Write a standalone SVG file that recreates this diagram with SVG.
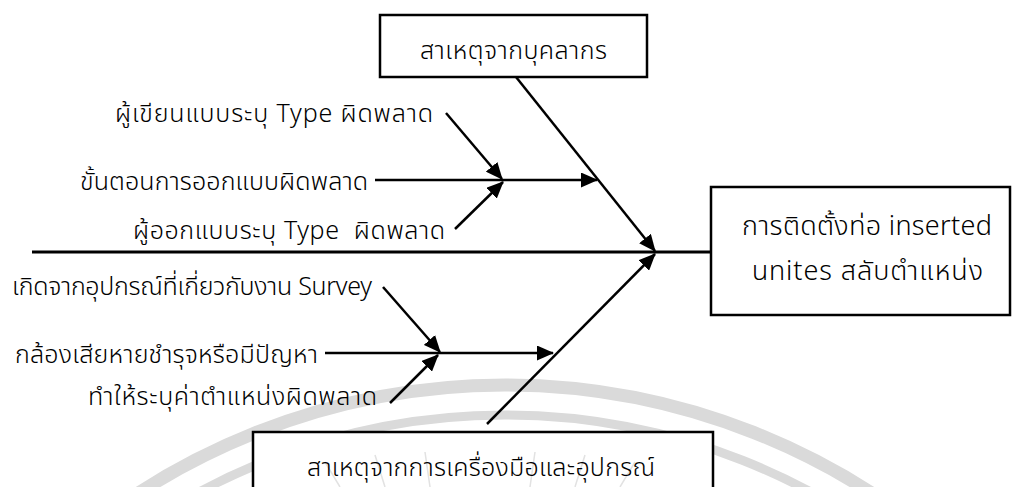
<svg xmlns="http://www.w3.org/2000/svg" width="1013" height="487" viewBox="0 0 1013 487">
  <style>
    .bg { fill: #ffffff; }
    .box { fill: #ffffff; stroke: #000000; stroke-width: 2.5; }
    .lbl { font-family: "Noto Sans Thai", "Noto Sans", "DejaVu Sans", sans-serif; font-size: 25px; font-weight: 300; fill: #000000; }
    .big { font-size: 27px; }
    .edge { stroke: #000000; stroke-width: 2.5; fill: none; }
    .spine { stroke: #000000; stroke-width: 3; fill: none; }
    .ring { fill: none; stroke: #dadada; }
    .ray { stroke: #e2e2e2; stroke-width: 1.5; }
  </style>
  <defs>
    <marker id="arrow" viewBox="0 0 17 15" refX="16" refY="7.5" markerWidth="17" markerHeight="15" markerUnits="userSpaceOnUse" orient="auto">
      <path d="M0,0 L17,7.5 L0,15 Z" fill="#000000"/>
    </marker>
  </defs>

  <rect class="bg" x="0" y="0" width="1013" height="487"/>

  <!-- faint seal printed in the background -->
  <g id="seal">
    <circle class="ring" cx="505" cy="1060" r="675" stroke-width="13"/>
    <circle class="ring" cx="505" cy="1060" r="645" stroke-width="9"/>
  </g>

  <!-- cause branches and main spine -->
  <g id="connectors">
    <line class="spine" x1="32" y1="252" x2="711" y2="252"/>
    <line class="edge" x1="516" y1="77" x2="655" y2="251" marker-end="url(#arrow)"/>
    <line class="edge" x1="487" y1="424" x2="655" y2="254" marker-end="url(#arrow)"/>

    <line class="edge" x1="375" y1="180" x2="597" y2="180" marker-end="url(#arrow)"/>
    <line class="edge" x1="446" y1="113" x2="502" y2="179" marker-end="url(#arrow)"/>
    <line class="edge" x1="455" y1="229" x2="503" y2="182" marker-end="url(#arrow)"/>

    <line class="edge" x1="325" y1="353" x2="553" y2="353" marker-end="url(#arrow)"/>
    <line class="edge" x1="383" y1="287" x2="440" y2="352" marker-end="url(#arrow)"/>
    <line class="edge" x1="390" y1="403" x2="438" y2="355" marker-end="url(#arrow)"/>
  </g>

  <g id="cause-people">
    <rect class="box" x="380" y="15" width="267" height="62"/>
    <text class="lbl" x="420" y="59" textLength="187">สาเหตุจากบุคลากร</text>
  </g>

  <g id="cause-tools">
    <rect class="box" x="253" y="432" width="460" height="70"/>
    <!-- seal rays showing through the box -->
    <line class="ray" x1="340" y1="487" x2="325" y2="462"/>
    <line class="ray" x1="385" y1="487" x2="375" y2="455"/>
    <line class="ray" x1="430" y1="487" x2="425" y2="452"/>
    <line class="ray" x1="530" y1="487" x2="535" y2="452"/>
    <line class="ray" x1="575" y1="487" x2="585" y2="455"/>
    <line class="ray" x1="620" y1="487" x2="635" y2="462"/>
    <text class="lbl" x="307" y="476" textLength="348">สาเหตุจากการเครื่องมือและอุปกรณ์</text>
  </g>

  <g id="effect">
    <rect class="box" x="711" y="187" width="299" height="128"/>
    <text class="lbl big" x="742" y="235" textLength="250">การติดตั้งท่อ inserted</text>
    <text class="lbl big" x="752" y="280" textLength="231">unites สลับตำแหน่ง</text>
  </g>

  <g id="sub-writer-type">
    <text class="lbl" x="115" y="122" textLength="318">ผู้เขียนแบบระบุ Type ผิดพลาด</text>
  </g>
  <g id="sub-design-process">
    <text class="lbl" x="80" y="190" textLength="288">ขั้นตอนการออกแบบผิดพลาด</text>
  </g>
  <g id="sub-designer-type">
    <text class="lbl" x="133" y="239" textLength="312" xml:space="preserve">ผู้ออกแบบระบุ Type  ผิดพลาด</text>
  </g>
  <g id="sub-survey-equipment">
    <text class="lbl" x="12" y="295" textLength="360">เกิดจากอุปกรณ์ที่เกี่ยวกับงาน Survey</text>
  </g>
  <g id="sub-camera-damage">
    <text class="lbl" x="15" y="363" textLength="303">กล้องเสียหายชำรุจหรือมีปัญหา</text>
  </g>
  <g id="sub-position-value">
    <text class="lbl" x="88" y="405" textLength="289">ทำให้ระบุค่าตำแหน่งผิดพลาด</text>
  </g>
</svg>
